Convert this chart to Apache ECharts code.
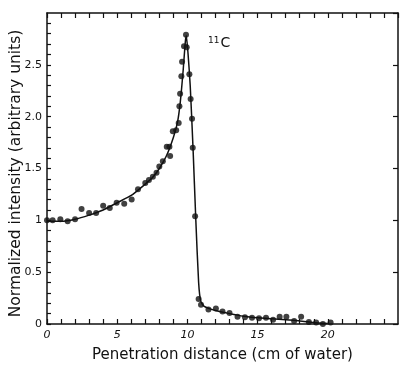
<!DOCTYPE html>
<html>
<head>
<meta charset="utf-8">
<script src="https://cdn.jsdelivr.net/npm/echarts@6/dist/echarts.min.js"></script>
<style>html,body{margin:0;padding:0;background:#fff}#c{width:400px;height:366px}</style>
</head>
<body>
<div id="c"></div>
<script>
// Measured points: [penetration distance (cm of water), normalized intensity]
const pointsX = [0,0.4,0.95,1.47,2.0,2.46,3.0,3.5,4.0,4.47,4.96,5.5,6.03,6.48,7.0,7.26,7.54,7.8,8.0,8.25,8.53,8.72,8.77,8.96,9.2,9.38,9.43,9.48,9.57,9.62,9.76,9.9,9.95,10.14,10.23,10.33,10.38,10.55,10.8,10.97,11.5,12.03,12.5,13.0,13.57,14.1,14.6,15.1,15.6,16.1,16.57,17.05,17.6,18.1,18.65,19.17,19.65,20.2];
const pointsY = [1.0,1.0,1.01,0.99,1.01,1.11,1.07,1.07,1.14,1.12,1.17,1.16,1.2,1.30,1.36,1.39,1.42,1.46,1.52,1.57,1.71,1.71,1.62,1.86,1.87,1.94,2.1,2.22,2.39,2.53,2.68,2.79,2.67,2.41,2.17,1.98,1.70,1.04,0.24,0.185,0.14,0.15,0.12,0.105,0.07,0.065,0.06,0.055,0.06,0.04,0.07,0.07,0.03,0.07,0.02,0.015,0.0,0.015];
// Fitted curve
const curveX = [0,1,2,3,4,5,6,7,7.5,8,8.5,9,9.3,9.5,9.7,9.85,9.92,10.05,10.2,10.4,10.6,10.8,10.95,11.2,12,13,14,15,16,17,18,19,20];
const curveY = [0.99,0.99,1.01,1.05,1.1,1.17,1.24,1.35,1.41,1.5,1.62,1.8,1.95,2.15,2.45,2.72,2.78,2.6,2.3,1.7,1.0,0.4,0.22,0.17,0.13,0.1,0.075,0.06,0.05,0.04,0.03,0.015,0.005];
const xTickLabels = {0:'0',5:'5',10:'10',15:'15',20:'20'};
const yTickLabels = {'0':'0','0.5':'0.5','1':'1','1.5':'1.5','2':'2.0','2.5':'2.5'};

const chart = echarts.init(document.getElementById('c'));
const font = 'DejaVu Sans';
const line = {show:true, onZero:false, lineStyle:{color:'#111', width:1.5}};
const tickIn = (len)=>({show:true, inside:true, length:len, lineStyle:{color:'#111', width:1.2}});
chart.setOption({
  animation:false,
  backgroundColor:'#fff',
  grid:{left:47, right:2, top:13, bottom:42, outerBoundsMode:'none', containLabel:false},
  xAxis:[{
    type:'value', min:0, max:25, interval:1, position:'bottom',
    axisLine:line,
    axisTick:tickIn(5),
    splitLine:{show:false},
    axisLabel:{color:'#111', fontFamily:font, fontSize:11, fontStyle:'italic', margin:6, showMaxLabel:false,
      formatter:v=> (xTickLabels[v] !== undefined ? xTickLabels[v] : '')},
    name:'Penetration distance (cm of water)', nameLocation:'middle', nameGap:24, nameMoveOverlap:false,
    nameTextStyle:{color:'#111', fontFamily:font, fontSize:15}
  },{
    type:'value', min:0, max:25, interval:1, position:'top',
    axisLine:line,
    axisTick:tickIn(5),
    splitLine:{show:false}, axisLabel:{show:false}
  }],
  yAxis:[{
    type:'value', min:0, max:3, interval:0.1, position:'left',
    axisLine:line,
    axisTick:tickIn(4),
    splitLine:{show:false},
    axisLabel:{color:'#111', fontFamily:font, fontSize:11, margin:5, showMaxLabel:false,
      formatter:v=>{const k=String(+v.toFixed(1)); return yTickLabels[k] !== undefined ? yTickLabels[k] : '';}},
    name:'Normalized intensity (arbitrary units)', nameLocation:'middle', nameGap:23, nameMoveOverlap:false,
    nameTextStyle:{color:'#111', fontFamily:font, fontSize:15.5, padding:[0,10,0,0]}
  },{
    type:'value', min:0, max:3, interval:0.5, position:'right',
    axisLine:line,
    axisTick:tickIn(5),
    splitLine:{show:false}, axisLabel:{show:false}
  }],
  graphic:[{
    type:'text', left:208, top:36,
    style:{text:'{s|11}{b|C}', fill:'#111',
      rich:{s:{fontFamily:font, fontSize:9, verticalAlign:'top', padding:[0,1,6,0]},
            b:{fontFamily:font, fontSize:14}}}
  }],
  series:[{
    type:'line', xAxisIndex:0, yAxisIndex:0,
    data:curveX.map((x,i)=>[x,curveY[i]]),
    smooth:0.2, showSymbol:false, lineStyle:{color:'#111', width:1.5}, z:2
  },{
    type:'scatter', xAxisIndex:0, yAxisIndex:0,
    data:pointsX.map((x,i)=>[x,pointsY[i]]),
    symbol:'circle', symbolSize:6, itemStyle:{color:'#111'}, z:3
  }]
});
</script>
</body>
</html>
